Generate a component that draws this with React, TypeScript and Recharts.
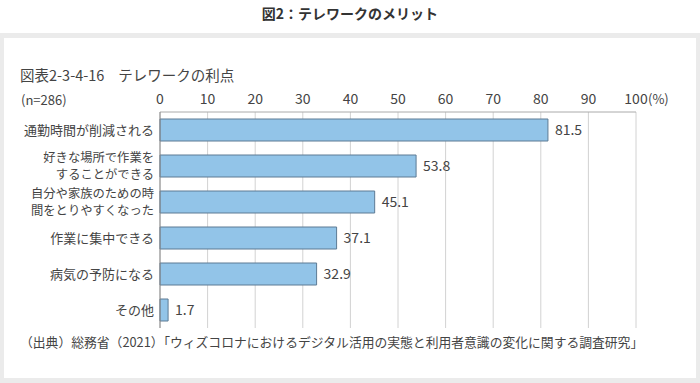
import React from "react";
import { BarChart, Bar, XAxis, YAxis, CartesianGrid, LabelList } from "recharts";

// 図表2-3-4-16 テレワークの利点 (n=286)
const categories = [
  "通勤時間が削減される",
  "好きな場所で作業を\nすることができる",
  "自分や家族のための時\n間をとりやすくなった",
  "作業に集中できる",
  "病気の予防になる",
  "その他",
];
const values = [81.5, 53.8, 45.1, 37.1, 32.9, 1.7];
const xTicks = [0, 10, 20, 30, 40, 50, 60, 70, 80, 90, 100];

const data = categories.map((name, i) => ({ name, value: values[i] }));

const FONT = "'Noto Sans CJK JP', 'Noto Sans', sans-serif";

const TopTick = (props: any) => {
  const { x, y, payload } = props;
  return (
    <g>
      <text x={x} y={y} textAnchor="middle" fontSize={14} fill="#444" fontFamily={FONT}>
        {payload.value}
      </text>
      {payload.value === 100 && (
        <text x={x + 12} y={y} textAnchor="start" fontSize={13} fill="#444" fontFamily={FONT}>
          (%)
        </text>
      )}
    </g>
  );
};

// two-line labels drawn as separate text rows
const CatTick = (props: any) => {
  const { x, y, payload } = props;
  const lines = String(payload.value).split("\n");
  const fs = lines.length > 1 ? 12.3 : 13;
  const lh = 17.9;
  const start = y - ((lines.length - 1) * lh) / 2 + 4.5;
  return (
    <g>
      {lines.map((l, i) => (
        <text
          key={i}
          x={x}
          y={start + i * lh}
          textAnchor="end"
          fontSize={fs}
          fill="#444"
          fontFamily={FONT}
        >
          {l}
        </text>
      ))}
    </g>
  );
};

const App = () => {
  return (
    <div
      style={{
        position: "absolute",
        left: 0,
        top: 0,
        width: 700,
        height: 383,
        background: "#fff",
        fontFamily: FONT,
        color: "#333",
      }}
    >
      <div
        style={{
          position: "absolute",
          top: 3,
          width: 700,
          textAlign: "center",
          fontSize: 14,
          fontWeight: 700,
        }}
      >
        図2：テレワークのメリット
      </div>
      <div
        style={{
          position: "absolute",
          left: 0,
          top: 33,
          width: 700,
          height: 350,
          background: "#ebebeb",
        }}
      />
      <div
        style={{
          position: "absolute",
          left: 4,
          top: 38,
          width: 692,
          height: 340,
          background: "#fff",
        }}
      />
      <div style={{ position: "absolute", left: 20, top: 64, fontSize: 14.5, color: "#444" }}>
        <span>図表2-3-4-16</span>
        <span style={{ marginLeft: 14 }}>テレワークの利点</span>
      </div>
      <div style={{ position: "absolute", left: 21, top: 90, fontSize: 13, color: "#444" }}>
        (n=286)
      </div>
      <div style={{ position: "absolute", left: 0, top: 0 }}>
        <BarChart
          width={700}
          height={383}
          data={data}
          layout="vertical"
          margin={{ top: 92, right: 64, left: 10, bottom: 55 }}
        >
          <CartesianGrid horizontal={false} vertical={true} stroke="#d2d2d2" />
          <XAxis
            type="number"
            orientation="top"
            domain={[0, 100]}
            ticks={xTicks}
            height={20}
            tickLine={false}
            axisLine={{ stroke: "#aaa" }}
            tick={<TopTick />}
            interval={0}
          />
          <YAxis
            type="category"
            dataKey="name"
            width={150}
            tickLine={false}
            axisLine={{ stroke: "#888" }}
            tick={<CatTick />}
            tickMargin={0}
            interval={0}
          />
          <Bar
            dataKey="value"
            barSize={22}
            fill="#92c4e8"
            stroke="#5d7b94"
            strokeWidth={1}
            isAnimationActive={false}
          >
            <LabelList
              dataKey="value"
              position="right"
              offset={7}
              fontSize={14}
              fill="#444"
              fontFamily={FONT}
              formatter={(v: any) => Number(v).toFixed(1)}
            />
          </Bar>
        </BarChart>
      </div>
      <div
        style={{
          position: "absolute",
          left: 20,
          top: 332,
          fontSize: 12.8,
          color: "#444",
          whiteSpace: "nowrap",
        }}
      >
        （出典）総務省（2021）「ウィズコロナにおけるデジタル活用の実態と利用者意識の変化に関する調査研究」
      </div>
    </div>
  );
};

export default App;
